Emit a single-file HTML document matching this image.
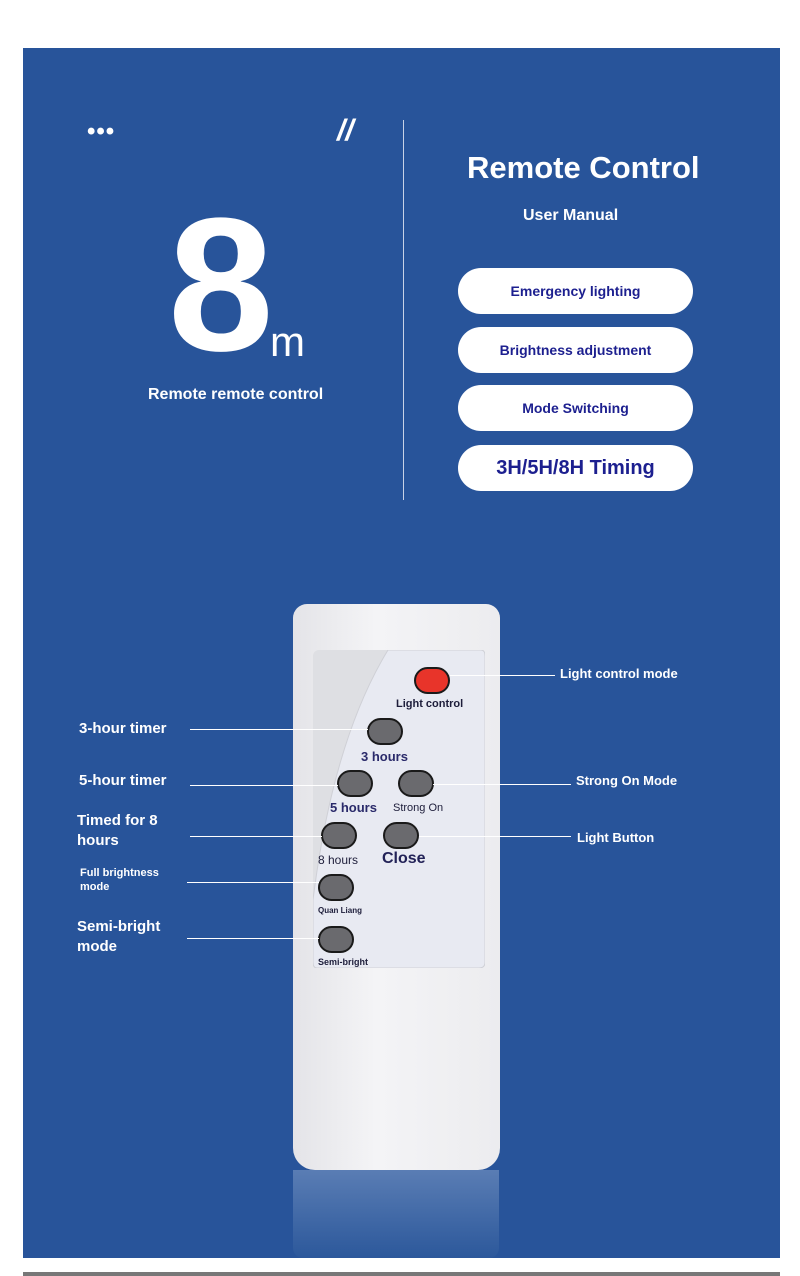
<!DOCTYPE html>
<html><head><style>
body{margin:0;width:800px;height:1276px;background:#fff;position:relative;overflow:hidden;font-family:"Liberation Sans",sans-serif}
.a{position:absolute}
.blue{left:23px;top:48px;width:757px;height:1210px;background:#28549a}
.w{color:#fff;font-weight:bold}
.pill{position:absolute;left:458px;width:235px;height:46px;border-radius:23px;background:#fff;color:#1c1f8f;font-weight:bold;font-size:14px;text-align:center;line-height:46px}
.btn{position:absolute;width:36px;height:27px;border-radius:14px;background:#6a6a6e;border:2px solid #1a1a1a;box-sizing:border-box}
.ln{position:absolute;height:1px;background:#fff}
.lb{position:absolute;color:#fff;font-weight:bold;font-size:15px;line-height:20px}
.rl{position:absolute;color:#fff;font-weight:bold;font-size:13px}
.t{position:absolute;color:#1d1d3a;font-weight:bold}
</style></head><body>
<div class="a blue"></div>
<div class="a" style="left:23px;top:1272px;width:757px;height:4px;background:#777"></div>
<div class="a w" style="left:87px;top:118px;font-size:24px;letter-spacing:1px">•••</div>
<div class="a w" style="left:337px;top:114px;font-size:30px;font-style:italic">//</div>
<div class="a" style="left:403px;top:120px;width:1px;height:380px;background:#c8d2e6"></div>
<div class="a w" style="left:168px;top:190px;font-size:190px;line-height:190px;letter-spacing:-4px">8</div>
<div class="a" style="left:270px;top:318px;font-size:42px;color:#fff">m</div>
<div class="a w" style="left:148px;top:386px;font-size:16px">Remote remote control</div>
<div class="a w" style="left:467px;top:150px;font-size:31px">Remote Control</div>
<div class="a w" style="left:523px;top:207px;font-size:16px">User Manual</div>
<div class="pill" style="top:268px">Emergency lighting</div>
<div class="pill" style="top:327px">Brightness adjustment</div>
<div class="pill" style="top:385px">Mode Switching</div>
<div class="pill" style="top:445px;font-size:20px">3H/5H/8H Timing</div>
<!-- reflection -->
<div class="a" style="left:293px;top:1170px;width:206px;height:88px;background:linear-gradient(#5a7db4,#2c589b);border-radius:0 0 10px 10px"></div>
<!-- remote -->
<div class="a" style="left:293px;top:604px;width:207px;height:566px;background:linear-gradient(90deg,#e4e4e8,#f4f4f6 40%,#ececef);border-radius:14px 14px 22px 22px"></div>
<div class="a" style="left:313px;top:650px;width:172px;height:318px;background:#dedfe3;border-radius:6px"></div>
<svg class="a" style="left:313px;top:650px" width="172" height="318"><path d="M75 0 H168 Q172 0 172 6 V312 Q172 318 166 318 H4 Q0 318 0 312 V250 Q20 90 75 0Z" fill="#e8eaf2" stroke="#cfd0d6"/></svg>
<div class="a" style="left:414px;top:667px;width:36px;height:27px;border-radius:14px;background:#e8342a;border:2px solid #1a1a1a;box-sizing:border-box"></div>
<div class="t" style="left:396px;top:698px;font-size:11px">Light control</div>
<div class="btn" style="left:367px;top:718px"></div>
<div class="t" style="left:361px;top:749px;font-size:13px;color:#2a2a6a">3 hours</div>
<div class="btn" style="left:337px;top:770px"></div>
<div class="btn" style="left:398px;top:770px"></div>
<div class="t" style="left:330px;top:800px;font-size:13px;color:#2a2a6a">5 hours</div>
<div class="t" style="left:393px;top:802px;font-size:11px;font-weight:normal">Strong On</div>
<div class="btn" style="left:321px;top:822px"></div>
<div class="btn" style="left:383px;top:822px"></div>
<div class="t" style="left:318px;top:853px;font-size:12px;font-weight:normal">8 hours</div>
<div class="t" style="left:382px;top:850px;font-size:16px;color:#222257">Close</div>
<div class="btn" style="left:318px;top:874px"></div>
<div class="t" style="left:318px;top:906px;font-size:8px">Quan Liang</div>
<div class="btn" style="left:318px;top:926px"></div>
<div class="t" style="left:318px;top:957px;font-size:9px">Semi-bright</div>
<!-- lines -->
<div class="ln" style="left:450px;top:675px;width:105px"></div>
<div class="ln" style="left:190px;top:729px;width:178px"></div>
<div class="ln" style="left:190px;top:785px;width:148px"></div>
<div class="ln" style="left:433px;top:784px;width:138px"></div>
<div class="ln" style="left:190px;top:836px;width:132px"></div>
<div class="ln" style="left:419px;top:836px;width:152px"></div>
<div class="ln" style="left:187px;top:882px;width:132px"></div>
<div class="ln" style="left:187px;top:938px;width:132px"></div>
<div class="rl" style="left:560px;top:666px">Light control mode</div>
<div class="rl" style="left:576px;top:773px">Strong On Mode</div>
<div class="rl" style="left:577px;top:830px">Light Button</div>
<div class="lb" style="left:79px;top:719px">3-hour timer</div>
<div class="lb" style="left:79px;top:771px">5-hour timer</div>
<div class="lb" style="left:77px;top:811px">Timed for 8<br>hours</div>
<div class="lb" style="left:80px;top:866px;font-size:11px;line-height:14px">Full brightness<br>mode</div>
<div class="lb" style="left:77px;top:917px">Semi-bright<br>mode</div>
</body></html>
